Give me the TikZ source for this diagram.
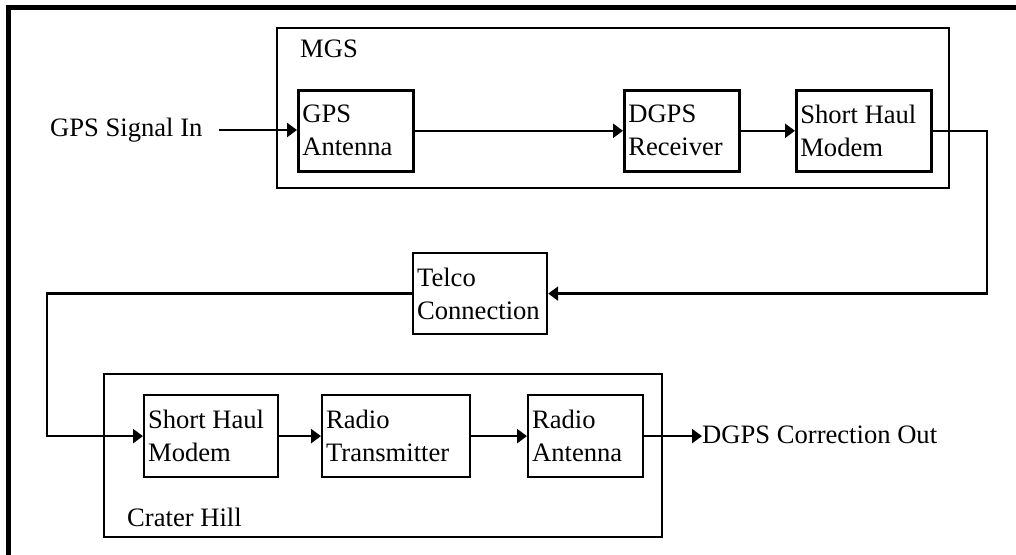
\documentclass[tikz,border=0pt]{standalone}
\usepackage{fontspec}
\setmainfont{Liberation Serif}
\usetikzlibrary{arrows.meta}
\begin{document}
\begin{tikzpicture}[x=1pt,y=-1pt,
  every node/.style={font=\fontsize{26.6}{33}\selectfont},
  blk/.style={draw, line width=2.6pt, anchor=north west, align=flush left, inner xsep=4pt, inner ysep=0pt},
  grp/.style={draw, line width=1.8pt},
  conn/.style={line width=2.4pt, -{Triangle[length=10pt,width=14pt]}},
  txt/.style={inner sep=0pt}]
\useasboundingbox (0,0) rectangle (1016,554);
% outer frame (top and left edges)
\draw[line width=5pt] (8.5,570) -- (8.5,7.5) -- (1030,7.5);
% group boxes
\draw[grp] (277,28) rectangle (949,188);
\node[txt, anchor=base west] (mgs) at (300,57) {MGS};
\draw[grp] (104,374) rectangle (662,537);
\node[txt, anchor=base west] (crater) at (127,526) {Crater Hill};
% blocks
\node[blk, minimum width=115pt, minimum height=81pt, text width=107pt] (gpsant) at (297,89) {GPS\\Antenna};
\node[blk, minimum width=115pt, minimum height=81pt, text width=107pt] (dgps) at (623,89) {DGPS\\Receiver};
\node[blk, minimum width=135pt, minimum height=81pt, text width=127pt] (shm1) at (795,89) {Short Haul\\Modem};
\node[blk, line width=2.2pt, minimum width=134pt, minimum height=81pt, text width=126pt] (telco) at (412,252) {Telco\\Connection};
\node[blk, line width=2.2pt, minimum width=134pt, minimum height=82pt, text width=126pt] (shm2) at (143,394) {Short Haul\\Modem};
\node[blk, line width=2.2pt, minimum width=148pt, minimum height=82pt, text width=140pt] (rtx) at (321,394) {Radio\\Transmitter};
\node[blk, line width=2.2pt, minimum width=115pt, minimum height=82pt, text width=107pt] (rant) at (527,394) {Radio\\Antenna};
% external labels
\node[txt, anchor=west] (gin) at (50,130) {GPS Signal In};
\node[txt, anchor=base west] (gout) at (702,443) {DGPS Correction Out};
\coordinate (r1) at (987,0);
\coordinate (l1) at (47,0);
% connectors
\draw[conn, shorten <=16pt] (gin.east) -- (gin.east -| gpsant.west);
\draw[conn] (gpsant.east) -- (dgps.west);
\draw[conn] (dgps.east) -- (shm1.west);
\draw[conn] (shm1.east) -- (shm1.east -| r1) -- (r1 |- telco.east) -- (telco.east);
\draw[conn] (telco.west) -- (telco.west -| l1) -- (l1 |- shm2.west) -- (shm2.west);
\draw[conn] (shm2.east) -- (rtx.west);
\draw[conn] (rtx.east) -- (rant.west);
\draw[conn] (rant.east) -- (rant.east -| gout.west);
\end{tikzpicture}
\end{document}
